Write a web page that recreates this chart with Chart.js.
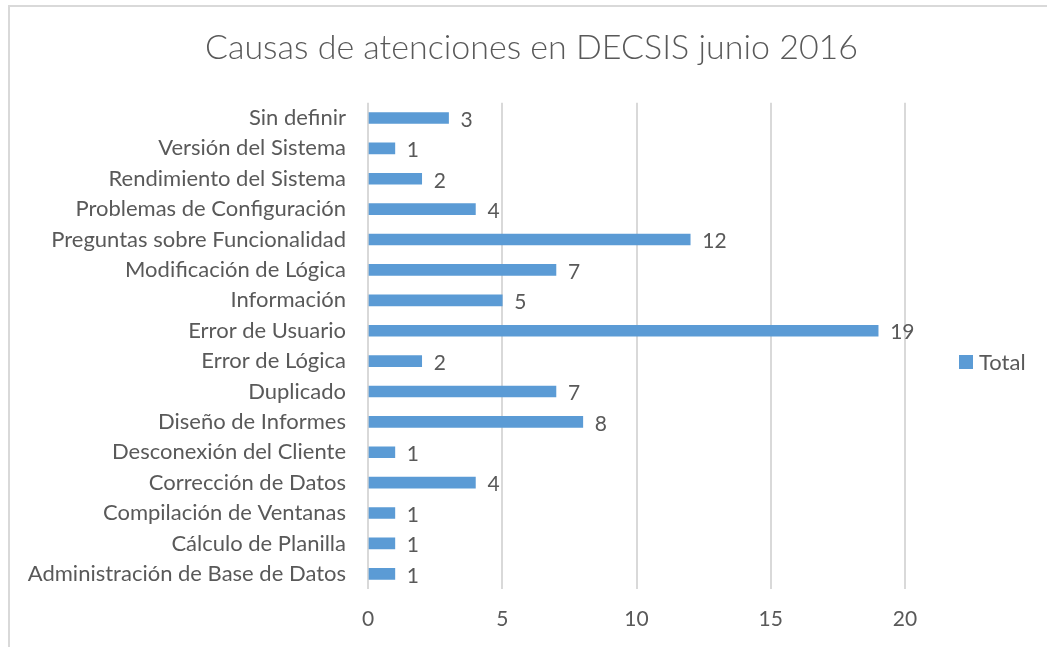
<!DOCTYPE html>
<html>
<head>
<meta charset="utf-8">
<script src="https://cdn.jsdelivr.net/npm/chart.js@4"></script>
<style>
  html, body { margin: 0; padding: 0; background: #fff; }
  #wrap { position: relative; width: 1047px; height: 647px; overflow: hidden; }
  #frame { position: absolute; left: 8px; top: 5px; width: 1100px; height: 700px;
           border-left: 2px solid #D9D9D9; border-top: 2px solid #D9D9D9; box-sizing: border-box; }
  #chart { position: absolute; left: 0; top: 0; }
  #legend { position: absolute; left: 959px; top: 348px; font: 22px Lato, sans-serif; color: #595959;
            display: flex; align-items: center; }
  #legend span { display: inline-block; width: 14px; height: 14px; background: #5B9BD5; margin-right: 6px; }
</style>
</head>
<body>
<div id="wrap">
  <div id="frame"></div>
  <canvas id="chart" width="1047" height="647"></canvas>
  <div id="legend"><span></span>Total</div>
</div>
<script>
// datos del gráfico (de arriba hacia abajo)
const categories = [
  'Sin definir', 'Versión del Sistema', 'Rendimiento del Sistema', 'Problemas de Configuración',
  'Preguntas sobre Funcionalidad', 'Modificación de Lógica', 'Información', 'Error de Usuario',
  'Error de Lógica', 'Duplicado', 'Diseño de Informes', 'Desconexión del Cliente',
  'Corrección de Datos', 'Compilación de Ventanas', 'Cálculo de Planilla', 'Administración de Base de Datos'
];
const totals = [3, 1, 2, 4, 12, 7, 5, 19, 2, 7, 8, 1, 4, 1, 1, 1];
const xTicks = [0, 5, 10, 15, 20];

const textColor = '#595959';
const gridColor = '#D9D9D9';
const barColor = '#5B9BD5';

// etiquetas de valor al final de cada barra
const valueLabels = {
    id: 'valueLabels',
    afterDatasetsDraw(chart) {
        const ctx = chart.ctx;
        ctx.save();
        ctx.font = '21px Lato, sans-serif';
        ctx.fillStyle = textColor;
        ctx.textAlign = 'left';
        ctx.textBaseline = 'middle';
        chart.getDatasetMeta(0).data.forEach((bar, i) => {
            ctx.fillText(String(totals[i]), bar.x + 12, bar.y + 2);
        });
        ctx.restore();
    }
};

// centrar el título sobre todo el gráfico, no sólo sobre el área de datos
const centerTitle = {
    id: 'centerTitle',
    afterLayout(chart) {
        if (chart.titleBlock) {
            chart.titleBlock.left = 16;
            chart.titleBlock.right = chart.width;
        }
    }
};

new Chart(document.getElementById('chart').getContext('2d'), {
    type: 'bar',
    data: {
        labels: categories,
        datasets: [{
            label: 'Total',
            data: totals,
            backgroundColor: barColor,
            barThickness: 11
        }]
    },
    options: {
        responsive: false,
        animation: false,
        indexAxis: 'y',
        layout: { padding: { left: 0, right: 142, top: 0, bottom: 0 } },
        plugins: {
            legend: { display: false },
            tooltip: { enabled: false },
            title: {
                display: true,
                text: 'Causas de atenciones en DECSIS junio 2016',
                color: textColor,
                font: { family: 'Lato', size: 34, weight: '300' },
                padding: { top: 28, bottom: 34 }
            }
        },
        scales: {
            x: {
                min: 0, max: 20,
                afterBuildTicks: (scale) => { scale.ticks = xTicks.map(v => ({ value: v })); },
                afterFit: (scale) => { scale.height = 58; },
                grid: { color: gridColor, lineWidth: 2, drawTicks: false },
                border: { display: false },
                ticks: { color: textColor, font: { family: 'Lato', size: 21 }, padding: 18 }
            },
            y: {
                afterFit: (scale) => { scale.width = 368; },
                grid: { display: false, drawTicks: false },
                border: { display: false },
                ticks: { color: textColor, font: { family: 'Lato', size: 22 }, padding: 22, autoSkip: false }
            }
        }
    },
    plugins: [valueLabels, centerTitle]
});
</script>
</body>
</html>
